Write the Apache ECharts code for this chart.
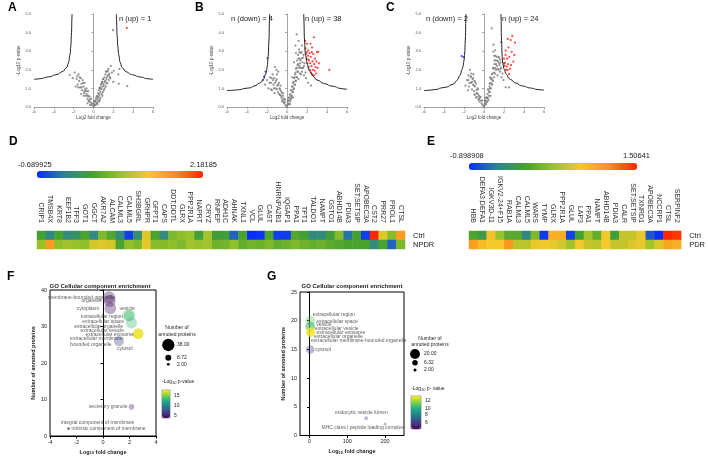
<!DOCTYPE html>
<html>
<head>
<meta charset="utf-8">
<script src="https://cdn.jsdelivr.net/npm/echarts@6.0.0/dist/echarts.min.js"></script>
<style>
  html, body { margin: 0; padding: 0; background: #fff; }
  #main { width: 708px; height: 457px; }
</style>
</head>
<body>
<div id="main"></div>
<script>
// ---------- A / B / C volcano data (log2 FC, -log10 p) ----------
const volcA_gray = [
  [-2.4,1.72],[-2.1,1.55],[-1.9,1.85],[-1.7,1.5],[-1.6,1.2],[-1.5,1.75],[-1.45,1.4],[-1.35,1.05],[-1.3,1.55],[-1.2,1.25],
  [-1.15,0.9],[-1.1,1.45],[-1.0,1.1],[-0.95,0.75],[-0.9,1.3],[-0.85,0.95],[-0.8,0.6],[-0.7,1.0],[-0.7,0.7],[-0.6,0.45],
  [-0.55,0.85],[-0.5,0.6],[-0.45,0.3],[-0.4,0.55],[-0.3,0.25],[-0.25,0.45],[-0.2,0.15],[-0.1,0.08],[-1.8,1.1],[-1.25,0.7],
  [-0.15,0.2],[-0.35,0.4],[-0.5,0.35],[-0.65,0.6],[-0.75,0.85],[-0.9,0.85],[-1.05,1.3],[-1.2,1.05],[-1.4,1.6],[-1.55,1.05],
  [-1.65,1.65],[-1.0,0.6],[-0.6,0.2],[-0.35,0.1],
  [0.05,0.05],[0.1,0.15],[0.15,0.3],[0.2,0.1],[0.25,0.45],[0.3,0.25],[0.35,0.6],[0.4,0.4],[0.45,0.75],[0.5,0.5],
  [0.55,0.9],[0.6,0.65],[0.65,1.05],[0.7,0.8],[0.75,1.2],[0.8,0.95],[0.85,1.35],[0.9,1.1],[0.95,1.5],[1.0,1.25],
  [1.05,0.9],[1.1,1.6],[1.15,1.35],[1.2,1.75],[1.25,1.1],[1.3,1.5],[1.35,1.9],[1.4,1.3],[1.45,1.7],[1.5,2.05],
  [1.55,1.45],[1.6,1.8],[1.7,1.55],[1.75,2.2],[1.85,1.85],[2.0,1.35],[2.05,1.95],[2.5,1.75],[2.6,2.05],[2.55,1.25],
  [3.4,1.12],[1.97,4.13],[0.4,0.15],[0.6,0.3],[0.9,0.6],
  [0.1,0.3],[0.2,0.35],[0.3,0.55],[0.35,0.2],[0.45,0.55],[0.5,0.3],[0.55,0.7],[0.6,1.0],[0.7,0.5],[0.75,1.0],
  [0.8,1.25],[0.85,0.7],[0.9,1.35],[1.0,1.5],[1.05,1.15],[1.1,1.0],[1.2,1.4],[1.3,1.25],[1.35,1.6],[1.45,1.95],
  [1.55,1.7],[1.65,1.6],[1.25,1.9],[0.65,0.4],[0.95,0.8]
];
const volcA_up = [[3.36,4.25]];
const volcA_down = [];
const volcA_curveL = [[-2.16,5],[-2.2,4.2],[-2.26,3.5],[-2.33,3.0],[-2.45,2.55],[-2.62,2.2],[-2.95,1.98],[-3.45,1.8],[-4.15,1.67],[-5,1.56],[-6,1.49]];
const volcA_curveR = [[2.3,5],[2.35,4.2],[2.42,3.5],[2.5,3.0],[2.62,2.55],[2.8,2.2],[3.1,1.98],[3.6,1.8],[4.3,1.67],[5.1,1.56],[6,1.49]];

const volcB_gray = [
  [-2.2,1.2],[-2.0,1.45],[-1.85,1.0],[-1.7,1.6],[-1.6,1.3],[-1.5,0.9],[-1.45,1.75],[-1.35,1.2],[-1.3,1.55],[-1.2,2.15],
  [-1.15,1.0],[-1.1,1.4],[-1.0,1.75],[-0.95,1.15],[-0.9,0.8],[-0.87,1.9],[-0.8,1.3],[-0.75,1.0],[-0.7,0.65],[-0.65,1.15],
  [-0.6,0.85],[-0.55,0.5],[-0.5,0.75],[-0.45,0.4],[-0.4,0.6],[-0.35,0.3],[-0.3,0.45],[-0.2,0.25],[-0.15,0.1],[-0.05,0.05],
  [-1.6,0.95],[-1.25,0.75],
  [-0.2,0.4],[-0.3,0.2],[-0.4,0.75],[-0.5,0.3],[-0.6,0.6],[-0.7,0.95],[-0.8,0.7],[-0.9,1.2],[-1.0,0.95],[-1.05,1.5],
  [-1.2,1.3],[-1.3,1.0],[-1.4,1.45],[-1.55,1.55],[-1.75,1.3],[-1.05,2.0],
  [0.05,0.1],[0.1,0.2],[0.15,0.35],[0.2,0.15],[0.25,0.5],[0.3,0.3],[0.35,0.7],[0.4,0.45],[0.45,0.9],[0.5,0.6],
  [0.55,1.1],[0.6,0.8],[0.65,1.35],[0.7,1.0],[0.75,1.6],[0.8,1.2],[0.85,1.85],[0.9,1.4],[0.95,2.1],[1.0,1.6],
  [1.0,2.5],[1.05,1.9],[1.1,2.3],[1.1,2.8],[1.15,1.5],[1.2,2.1],[1.2,3.1],[1.25,2.6],[1.3,1.8],[1.3,2.35],
  [1.35,2.9],[1.4,2.1],[1.45,2.6],[1.5,1.9],[1.5,3.3],[1.55,2.4],[1.6,2.1],[1.65,2.8],[1.7,1.7],[1.75,2.35],
  [0.97,3.9],[0.85,3.3],[0.9,2.9],[1.15,3.55],[0.7,2.4],[1.9,1.55],[2.1,1.3],[2.4,1.15],[1.85,1.85],[0.5,1.6],
  [0.1,0.35],[0.2,0.5],[0.3,0.65],[0.35,0.4],[0.4,0.9],[0.45,0.55],[0.5,1.1],[0.55,0.8],[0.6,1.3],[0.65,0.95],
  [0.7,1.55],[0.75,1.2],[0.8,1.75],[0.85,1.4],[0.9,2.05],[0.95,1.6],[1.05,2.25],[1.1,1.9],[1.15,2.6],[1.25,2.2],
  [1.35,2.5],[1.4,1.75],[1.45,2.95],[1.55,2.1],[1.6,2.65],[1.7,2.2],[1.25,2.95],[0.6,0.5],[0.3,0.15]
];
const volcB_up = [
  [1.82,3.55],[1.85,3.15],[1.9,2.85],[1.95,2.6],[2.0,3.4],[2.05,2.35],[2.1,2.75],[2.12,3.05],[2.18,2.15],[2.2,2.5],
  [2.25,2.9],[2.3,2.0],[2.32,2.35],[2.38,2.7],[2.4,1.85],[2.45,2.2],[2.5,3.2],[2.52,1.75],[2.55,2.45],[2.6,2.0],
  [2.62,2.85],[2.68,1.7],[2.7,3.75],[2.72,2.3],[2.78,1.95],[2.8,2.6],[2.85,2.15],[2.9,1.8],[2.95,2.45],[3.0,2.95],
  [3.05,2.1],[3.13,2.97],[3.2,2.35],[2.35,3.4],[2.15,2.55],[2.48,2.95],[1.98,2.95],[4.23,2.0]
];
const volcB_down = [[-1.95,2.62],[-2.15,1.9],[-2.3,1.62],[-2.4,1.45]];
const volcB_curveL = [[-1.73,5],[-1.78,4.0],[-1.85,3.0],[-1.93,2.4],[-2.03,1.95],[-2.25,1.6],[-2.53,1.36],[-3,1.2],[-3.53,1.06],[-4.5,0.96],[-6,0.88]];
const volcB_curveR = [[1.67,5],[1.72,4.0],[1.8,3.06],[1.95,2.5],[2.13,2.08],[2.4,1.8],[2.8,1.54],[3.4,1.33],[4.13,1.18],[5,1.05],[6,0.95]];

const volcC_gray = [
  [-1.85,1.15],[-1.7,1.45],[-1.57,1.45],[-1.5,1.1],[-1.4,2.0],[-1.35,1.6],[-1.3,1.3],[-1.25,1.8],[-1.2,0.95],[-1.15,1.5],
  [-1.1,1.2],[-1.05,1.75],[-1.0,0.85],[-0.95,1.4],[-0.9,1.1],[-0.85,0.7],[-0.8,1.25],[-0.75,0.9],[-0.7,0.55],[-0.65,1.0],
  [-0.6,0.7],[-0.55,0.4],[-0.5,0.6],[-0.45,0.3],[-0.4,0.5],[-0.3,0.35],[-0.25,0.2],[-0.15,0.12],[-0.05,0.05],[-1.6,0.9],
  [-0.2,0.35],[-0.35,0.55],[-0.5,0.45],[-0.6,0.95],[-0.7,0.75],[-0.8,0.5],[-0.9,1.35],[-1.0,1.15],[-1.1,1.55],[-1.2,1.35],
  [-1.3,1.65],[-1.45,1.3],[-1.55,1.7],[-0.95,0.65],
  [0.05,0.08],[0.1,0.2],[0.15,0.35],[0.2,0.15],[0.25,0.5],[0.3,0.3],[0.35,0.7],[0.4,0.45],[0.45,0.9],[0.5,0.6],
  [0.55,1.1],[0.6,0.8],[0.65,1.3],[0.7,1.0],[0.75,1.55],[0.8,1.2],[0.85,1.8],[0.9,1.4],[0.95,2.05],[1.0,1.6],
  [1.05,2.3],[1.1,1.8],[1.15,2.5],[1.2,2.0],[1.25,2.7],[1.3,2.2],[1.35,1.7],[1.4,2.45],[1.45,2.0],[1.5,2.65],
  [1.55,2.25],[1.6,1.9],[1.65,2.4],[1.7,2.1],[0.93,2.97],[1.1,3.05],[0.77,4.23],[0.95,3.35],[1.75,1.6],[1.95,1.45],
  [2.17,1.06],[2.5,1.05],[0.6,1.6],[1.85,1.8],
  [0.1,0.35],[0.2,0.5],[0.25,0.25],[0.35,0.5],[0.4,0.95],[0.5,0.8],[0.55,1.25],[0.6,1.0],[0.7,1.5],[0.75,1.25],
  [0.8,1.75],[0.85,1.45],[0.9,2.1],[1.0,1.85],[1.05,2.5],[1.1,2.1],[1.15,2.75],[1.2,2.3],[1.3,2.5],[1.35,2.05],
  [1.45,2.7],[1.5,2.35],[1.6,2.55],[1.65,2.05],[1.0,2.75],[0.45,0.35],[0.65,0.6]
];
const volcC_up = [
  [1.73,3.48],[2.37,3.66],[2.83,3.82],[2.67,3.6],[3.1,3.46],[2.17,3.03],[2.77,2.97],[3.03,2.8],[2.53,2.7],[2.93,2.44],
  [2.1,2.38],[2.27,2.17],[2.37,1.99],[2.5,1.77],[2.0,2.35],[2.07,2.22],[2.2,2.0],[2.4,2.3],[2.6,2.05],[2.3,2.6],
  [2.15,2.8],[2.45,3.2],[2.0,2.6],[2.7,2.25]
];
const volcC_down = [[-2.23,2.74],[-2.05,2.68]];
const volcC_curveL = [[-1.8,5],[-1.84,4],[-1.9,3.2],[-1.97,2.6],[-2.1,2.2],[-2.3,1.85],[-2.55,1.55],[-2.9,1.3],[-3.5,1.12],[-4.5,0.98],[-6,0.88]];
const volcC_curveR = [[1.7,5],[1.73,4],[1.78,3.2],[1.83,2.53],[1.95,2.15],[2.1,1.9],[2.4,1.6],[2.93,1.36],[3.5,1.2],[4.27,1.06],[5,0.98],[6,0.91]];

// ---------- D / E heatmaps ----------
const genesD = ['CRIP1','TMSB4X','KRT8','EEF1B2','TFF3','GOT1','GGCT','AKR7A2','ALCAM','CALML3','CALML5','SH3BGRL',
  'GRHPR','GFPT1','CAPS','DDT;DDTL','GLRX','PPP2R1A','NAPRT','CRYZ','RNPEP','ADH1C','AHNAK','TXNL1','VCL','GLUL',
  'CAST','HNRNPA2B1','IQGAP1','PPA1','TPT1','TALDO1','NAMPT','GSTO1','ABHD14B','PDIA3','SET;SETSIP','APOBEC3A',
  'CST2','PRR27','PROL1','CTSL'];
const ctrlD = [0.25,-0.15,0.3,-0.1,0.0,0.3,-0.15,0.6,0.35,-0.1,-0.6,-0.05,1.1,0.3,-0.1,0.6,0.7,0.75,0.2,0.8,
  0.2,0.2,-0.4,0.3,-0.69,-0.65,0.3,-0.6,-0.6,0.35,0.25,-0.12,-0.12,0.2,0.65,-0.3,0.25,-0.6,2.18,1.1,0.65,1.6];
const npdrD = [0.75,1.6,0.7,0.8,0.75,0.7,1.05,1.1,1.05,0.3,0.7,0.6,1.15,0.65,0.65,0.7,0.6,0.8,0.75,0.8,
  0.5,0.55,0.7,0.45,0.55,0.5,0.6,0.45,0.5,0.6,0.5,0.45,0.5,0.4,0.35,0.3,0.3,0.3,-0.1,0.3,-0.4,0.6];
const rangeD = [-0.689925, 2.18185];

const genesE = ['HBB','DEFA3;DEFA1','IGKV3D-11','IGKV2-24+F15','RAB1A','CALML3','CALML5','WARS','TYMP','GLRX',
  'PPP2R1A','GLUL','LAP3','PPA1','NAMPT','ABHD14B','PDIA3','CALR','SET;SETSIP','TXNRD1','APOBEC3A','NCCRP1',
  'CTSL','SERPINF2'];
const ctrlE = [-0.05,-0.2,0.75,0.3,0.0,0.0,-0.45,0.2,-0.85,0.9,0.9,-0.8,-0.1,0.35,0.05,0.7,-0.15,0.5,0.5,0.65,
  -0.7,-0.9,1.5,1.45];
const pdrE = [1.0,0.8,0.7,0.72,1.05,0.45,0.45,0.65,0.7,0.65,0.55,0.35,0.7,0.5,0.45,0.7,0.5,0.5,0.6,0.65,
  0.35,0.6,0.95,0.9];
const rangeE = [-0.898908, 1.50641];

// ---------- F / G GO bubble charts ----------
const goF_terms = ['membrane-bounded organelle','organelle','cytoplasm','vesicle','extracellular region',
  'extracellular space','extracellular organelle','extracellular vesicle','extracellular exosome',
  'extracellular membrane-bounded organelle','cytosol','secretory granule',
  'integral component of membrane','intrinsic component of membrane'];
const goF_fc = [0.45,0.5,0.55,1.9,2.0,2.15,2.65,2.65,2.65,2.65,1.2,2.15,-2.6,-2.6];
const goF_count = [38,37,35,33,33,31,28,28,28,28,26,8,2,2];
const goF_logp = [4.5,4.5,4.8,14.5,13,13.5,17.5,17.5,17.8,17.5,7,5,4.5,4.5];

const goG_terms = ['extracellular region','extracellular space','vesicle','extracellular vesicle',
  'extracellular exosome','extracellular organelle','extracellular membrane-bounded organelle','cytosol',
  'endocytic vesicle lumen','MHC class I peptide loading complex'];
const goG_fc = [2,2,2,3,3,3,3,2,150,200];
const goG_count = [20,19,19,18,18,18,18,15,3,2];
const goG_logp = [11,10.5,10.5,13.2,13.2,13.2,13,5.5,6,5.5];

// label placement (align, dx, dy) relative to bubble centre
const labF = {
  'membrane-bounded organelle': ['right', 6, 0],
  'organelle': ['right', -7.5, 0],
  'cytoplasm': ['right', -11, 0],
  'vesicle': ['center', -1, -7.2],
  'extracellular region': ['right', -6.5, 1.2],
  'extracellular space': ['right', -7.5, -1.2],
  'extracellular organelle': ['right', -15, -7],
  'extracellular vesicle': ['right', -14, -2.8],
  'extracellular exosome': ['right', -4, 1.2],
  'extracellular membrane-bounded organelle': ['left', -68, 8.2],
  'cytosol': ['center', 6, 8],
  'secretory granule': ['right', -4, 0],
  'integral component of membrane': ['left', -7.6, -5.7],
  'intrinsic component of membrane': ['left', 3, 0]
};
const labG = {
  'extracellular region': ['left', 2.5, -6.4],
  'extracellular space': ['left', 6, -4.7],
  'vesicle': ['left', 6, -1.7],
  'extracellular vesicle': ['left', 4.4, -3.2],
  'extracellular exosome': ['left', 6, 0],
  'extracellular organelle': ['left', 3.4, 4.5],
  'extracellular membrane-bounded organelle': ['left', 0.5, 8.8],
  'cytosol': ['left', 5, 0],
  'endocytic vesicle lumen': ['center', -4.8, -5.6],
  'MHC class I peptide loading complex': ['center', -22.5, 3.3]
};

const FONT = 'Liberation Sans, Arial, sans-serif';
const heatColors = ['#0a2dff','#2e8490','#45a12f','#97c22b','#f5c92b','#fa8f1c','#ff2600'];
const viridis = ['#440154','#482878','#3e4989','#31688e','#26828e','#1f9e89','#35b779','#6ece58','#b5de2b','#fde725'];

const grids = [
  { left: 34, top: 14, width: 119, height: 93 },
  { left: 227, top: 14, width: 120, height: 93 },
  { left: 424, top: 14, width: 120, height: 93 },
  { left: 37, top: 231, width: 368, height: 18 },
  { left: 469, top: 231, width: 214, height: 18 },
  { left: 50, top: 290, width: 106, height: 146, show: true, borderColor: '#000', borderWidth: 1 },
  { left: 300, top: 292, width: 104, height: 143.5, show: true, borderColor: '#000', borderWidth: 1 }
];

const xAxes = [], yAxes = [], series = [];

function volcano(g, gray, up, down, curveL, curveR) {
  const grayLine = { color: '#8c8c8c', width: 0.8 };
  xAxes.push({
    gridIndex: g, type: 'value', min: -6, max: 6, interval: 2,
    axisLine: { show: true, lineStyle: grayLine }, axisTick: { show: true, length: 2, lineStyle: grayLine },
    axisLabel: { fontSize: 4, color: '#555', margin: 3 }, splitLine: { show: false },
    name: 'Log2 fold change', nameLocation: 'middle', nameGap: 7, nameTextStyle: { fontSize: 4.5, color: '#444' }
  });
  yAxes.push({
    gridIndex: g, type: 'value', min: 0, max: 5, interval: 1,
    axisLine: { show: true, lineStyle: grayLine }, axisTick: { show: true, length: 2, lineStyle: grayLine },
    axisLabel: { fontSize: 4, color: '#555', margin: 3, formatter: v => v.toFixed(1) }, splitLine: { show: false },
    name: '-Log10 p-value', nameLocation: 'middle', nameGap: 9, nameTextStyle: { fontSize: 4.5, color: '#444' }
  });
  const pt = (data, color) => ({
    type: 'scatter', xAxisIndex: g, yAxisIndex: g, data, symbolSize: 2.2,
    itemStyle: { color }, silent: true
  });
  series.push(pt(gray, '#767676'));
  if (up.length) series.push(pt(up, '#ff1a1a'));
  if (down.length) series.push(pt(down, '#2a2aff'));
  [curveL, curveR].forEach(c => series.push({
    type: 'line', xAxisIndex: g, yAxisIndex: g, data: c, smooth: 0.4, smoothMonotone: 'y',
    showSymbol: false, symbol: 'none', clip: true, silent: true,
    lineStyle: { color: '#222', width: 1 }
  }));
}
volcano(0, volcA_gray, volcA_up, volcA_down, volcA_curveL, volcA_curveR);
volcano(1, volcB_gray, volcB_up, volcB_down, volcB_curveL, volcB_curveR);
volcano(2, volcC_gray, volcC_up, volcC_down, volcC_curveL, volcC_curveR);

function heat(g, genes, top, bottom, bottomName) {
  xAxes.push({
    gridIndex: g, type: 'category', data: genes, position: 'top',
    axisLine: { show: false }, axisTick: { show: false }, splitLine: { show: false },
    axisLabel: { rotate: 90, interval: 0, fontSize: 7, color: '#333', margin: 8 }
  });
  yAxes.push({
    gridIndex: g, type: 'category', data: [bottomName, 'Ctrl'], position: 'right',
    axisLine: { show: false }, axisTick: { show: false }, splitLine: { show: false },
    axisLabel: { interval: 0, fontSize: 7.5, color: '#222', margin: 8 }
  });
  const data = [];
  genes.forEach((_, i) => { data.push([i, 1, top[i]]); data.push([i, 0, bottom[i]]); });
  series.push({
    type: 'heatmap', xAxisIndex: g, yAxisIndex: g, data, silent: true,
    itemStyle: { borderWidth: 0 }, emphasis: { disabled: true }
  });
  return series.length - 1;
}
const idxD = heat(3, genesD, ctrlD, npdrD, 'NPDR');
const idxE = heat(4, genesE, ctrlE, pdrE, 'PDR');

function bubbles(g, terms, fc, count, logp, lab, k, fontSize) {
  const data = terms.map((t, i) => {
    const l = lab[t];
    return {
      name: t, value: [fc[i], count[i], logp[i]],
      label: { align: l[0], offset: [l[1], l[2]] }
    };
  });
  series.push({
    type: 'scatter', xAxisIndex: g, yAxisIndex: g, data, silent: true,
    symbolSize: v => k * Math.sqrt(v[1]),
    label: {
      show: true, position: 'inside', verticalAlign: 'middle', fontSize, color: '#333',
      lineHeight: 6,
      formatter: p => (g === 5 && p.name === 'extracellular membrane-bounded organelle')
        ? 'extracellular membrane-\nbounded organelle' : p.name
    }
  });
  return series.length - 1;
}
const axisBlack = { color: '#000', width: 1 };
const nameRich = { s: { fontSize: 4, fontWeight: 'bold', verticalAlign: 'bottom' } };
xAxes.push({
  gridIndex: 5, type: 'value', min: -4, max: 4, interval: 2,
  axisLine: { lineStyle: axisBlack }, axisTick: { length: 2.5, lineStyle: axisBlack },
  axisLabel: { fontSize: 5.5, color: '#222', margin: 3 }, splitLine: { show: false },
  name: 'Log{s|10} fold change', nameLocation: 'middle', nameGap: 13,
  nameTextStyle: { fontSize: 5.5, fontWeight: 'bold', color: '#222', rich: nameRich }
});
yAxes.push({
  gridIndex: 5, type: 'value', min: 0, max: 40, interval: 10,
  axisLine: { show: true, lineStyle: axisBlack }, axisTick: { show: true, length: 2.5, lineStyle: axisBlack },
  axisLabel: { fontSize: 5.5, color: '#222', margin: 3 }, splitLine: { show: false },
  name: 'Number of annoted proteins', nameLocation: 'middle', nameGap: 13,
  nameTextStyle: { fontSize: 5.5, fontWeight: 'bold', color: '#222' }
});
xAxes.push({
  gridIndex: 6, type: 'value', min: -25, max: 250,
  axisLine: { lineStyle: axisBlack },
  axisTick: { length: 2.5, lineStyle: axisBlack, customValues: [0, 100, 200] },
  axisLabel: { fontSize: 5.5, color: '#222', margin: 3, customValues: [0, 100, 200] }, splitLine: { show: false },
  name: 'Log{s|10} fold change', nameLocation: 'middle', nameGap: 13,
  nameTextStyle: { fontSize: 5.5, fontWeight: 'bold', color: '#222', rich: nameRich }
});
yAxes.push({
  gridIndex: 6, type: 'value', min: 0, max: 25, interval: 5,
  axisLine: { show: true, lineStyle: axisBlack }, axisTick: { show: true, length: 2.5, lineStyle: axisBlack },
  axisLabel: { fontSize: 5.5, color: '#222', margin: 3 }, splitLine: { show: false },
  name: 'Number of annoted proteins', nameLocation: 'middle', nameGap: 13,
  nameTextStyle: { fontSize: 5.5, fontWeight: 'bold', color: '#222' }
});
const idxF = bubbles(5, goF_terms, goF_fc, goF_count, goF_logp, labF, 2.0, 5);
const idxG = bubbles(6, goG_terms, goG_fc, goG_count, goG_logp, labG, 2.2, 5);

function txt(x, y, text, size, extra) {
  return {
    type: 'text', x, y, silent: true,
    style: Object.assign({ text, fontSize: size, fontFamily: FONT, fill: '#222',
      textAlign: 'left', textVerticalAlign: 'middle' }, extra || {})
  };
}
const letter = (x, y, t) => txt(x, y, t, 12, { fontWeight: 'bold', fill: '#000', textVerticalAlign: 'top' });
const dot = (cx, cy, r) => ({ type: 'circle', silent: true, shape: { cx, cy, r }, style: { fill: '#000' } });
const subRich = { s: { fontSize: 4, verticalAlign: 'bottom' } };

const graphics = [
  letter(8, 2, 'A'), letter(195, 2, 'B'), letter(386, 2, 'C'),
  letter(9, 136, 'D'), letter(427, 136, 'E'), letter(7, 271, 'F'), letter(267, 271, 'G'),
  txt(119, 19, 'n (up) = 1', 7.5),
  txt(231, 19, 'n (down) = 4', 7.5), txt(305, 19, 'n (up) = 38', 7.5),
  txt(426, 19, 'n (down) = 2', 7.5), txt(502, 19, 'n (up) = 24', 7.5),
  txt(18, 165, '-0.689925', 7.5), txt(217, 165, '2.18185', 7.5, { textAlign: 'right' }),
  txt(450, 156, '-0.898908', 7.5), txt(650, 156, '1.50641', 7.5, { textAlign: 'right' }),
  txt(100, 286, 'GO Cellular component enrichment', 6, { fontWeight: 'bold', textAlign: 'center' }),
  txt(352, 286, 'GO Cellular component enrichment', 6, { fontWeight: 'bold', textAlign: 'center' }),
  // F legends
  txt(177, 328, 'Number of', 5, { textAlign: 'center' }),
  txt(177, 334.5, 'annoted proteins', 5, { textAlign: 'center' }),
  dot(168.3, 345, Math.sqrt(38)), dot(168.3, 357.7, Math.sqrt(8.72)), dot(168.3, 364.3, Math.sqrt(2)),
  txt(177, 345, '38.00', 5), txt(177, 357.7, '8.72', 5), txt(177, 364.3, '2.00', 5),
  txt(162, 382, '-Log{s|10} p-value', 5, { rich: subRich }),
  txt(174, 396, '15', 5), txt(174, 405.7, '10', 5), txt(174, 415.7, '5', 5),
  { type: 'rect', silent: true, shape: { x: 162, y: 390, width: 8, height: 28 },
    style: { fill: 'none', stroke: '#555', lineWidth: 0.6 } },
  // G legends
  txt(430, 338.3, 'Number of', 5, { textAlign: 'center' }),
  txt(430, 344.5, 'annoted proteins', 5, { textAlign: 'center' }),
  dot(415, 354, 1.1 * Math.sqrt(20)), dot(415, 362.7, 1.1 * Math.sqrt(6.32)), dot(415, 370, 1.1 * Math.sqrt(2)),
  txt(424, 354, '20.00', 5), txt(424, 362.7, '6.32', 5), txt(424, 370, '2.00', 5),
  txt(411, 389, '-Log{s|10} p- value', 5, { rich: subRich }),
  txt(425, 400.7, '12', 5), txt(425, 408.3, '10', 5), txt(425, 415, '8', 5), txt(425, 422.3, '6', 5),
  { type: 'rect', silent: true, shape: { x: 411, y: 396, width: 10, height: 33 },
    style: { fill: 'none', stroke: '#555', lineWidth: 0.6 } }
];

const vmBase = { type: 'continuous', calculable: false, padding: 0, text: null, realtime: false, hoverLink: false };
// hidden maps only make the bubbles translucent, labels stay solid
const alphaMap = (idx) => ({ type: 'continuous', show: false, seriesIndex: idx, dimension: 2,
  min: 0, max: 100, inRange: { colorAlpha: [0.45, 0.45] } });
const option = {
  animation: false,
  backgroundColor: '#fff',
  textStyle: { fontFamily: FONT },
  grid: grids,
  xAxis: xAxes,
  yAxis: yAxes,
  visualMap: [
    Object.assign({}, vmBase, { seriesIndex: idxD, dimension: 2, min: rangeD[0], max: rangeD[1],
      orient: 'horizontal', left: 37, top: 171, itemWidth: 7, itemHeight: 166, inRange: { color: heatColors } }),
    Object.assign({}, vmBase, { seriesIndex: idxE, dimension: 2, min: rangeE[0], max: rangeE[1],
      orient: 'horizontal', left: 469, top: 163, itemWidth: 7, itemHeight: 168, inRange: { color: heatColors } }),
    Object.assign({}, vmBase, { seriesIndex: idxF, dimension: 2, min: 3.8, max: 18,
      orient: 'vertical', left: 162, top: 390, itemWidth: 8, itemHeight: 28, inRange: { color: viridis } }),
    Object.assign({}, vmBase, { seriesIndex: idxG, dimension: 2, min: 4.1, max: 13.3,
      orient: 'vertical', left: 411, top: 396, itemWidth: 10, itemHeight: 33, inRange: { color: viridis } }),
    alphaMap(idxF),
    alphaMap(idxG)
  ],
  graphic: graphics,
  series
};

const chart = echarts.init(document.getElementById('main'));
chart.setOption(option);
</script>
</body>
</html>
